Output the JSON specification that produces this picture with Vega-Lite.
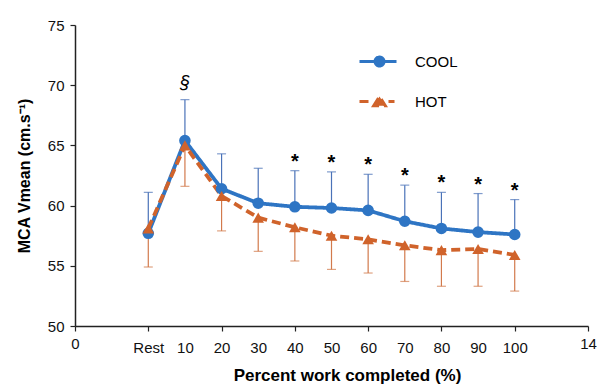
{
  "$schema": "https://vega.github.io/schema/vega-lite/v6.json",
  "width": 513,
  "height": 301,
  "autosize": {"type": "none"},
  "padding": {"left": 75, "top": 25, "right": 9, "bottom": 63},
  "background": "white",
  "config": {
    "view": {"stroke": null},
    "font": "Liberation Sans",
    "axis": {"grid": false, "domainColor": "#222", "domainWidth": 1.5, "tickColor": "#222", "tickWidth": 1.2, "labelColor": "#111", "titleColor": "#000", "labelFont": "Liberation Sans", "titleFont": "Liberation Sans"}
  },
  "data": {
    "values": [
      {"pos": 20, "group": "COOL", "mean": 57.7, "bar_end": 61.1, "sig": ""},
      {"pos": 30, "group": "COOL", "mean": 65.4, "bar_end": 68.8, "sig": "§"},
      {"pos": 40, "group": "COOL", "mean": 61.4, "bar_end": 64.3, "sig": ""},
      {"pos": 50, "group": "COOL", "mean": 60.2, "bar_end": 63.1, "sig": ""},
      {"pos": 60, "group": "COOL", "mean": 59.9, "bar_end": 62.9, "sig": "*"},
      {"pos": 70, "group": "COOL", "mean": 59.8, "bar_end": 62.8, "sig": "*"},
      {"pos": 80, "group": "COOL", "mean": 59.6, "bar_end": 62.6, "sig": "*"},
      {"pos": 90, "group": "COOL", "mean": 58.7, "bar_end": 61.7, "sig": "*"},
      {"pos": 100, "group": "COOL", "mean": 58.1, "bar_end": 61.1, "sig": "*"},
      {"pos": 110, "group": "COOL", "mean": 57.8, "bar_end": 61.0, "sig": "*"},
      {"pos": 120, "group": "COOL", "mean": 57.6, "bar_end": 60.5, "sig": "*"},
      {"pos": 20, "group": "HOT", "mean": 58.1, "bar_end": 54.9, "sig": ""},
      {"pos": 30, "group": "HOT", "mean": 65.0, "bar_end": 61.6, "sig": ""},
      {"pos": 40, "group": "HOT", "mean": 60.8, "bar_end": 57.9, "sig": ""},
      {"pos": 50, "group": "HOT", "mean": 59.0, "bar_end": 56.2, "sig": ""},
      {"pos": 60, "group": "HOT", "mean": 58.2, "bar_end": 55.4, "sig": ""},
      {"pos": 70, "group": "HOT", "mean": 57.5, "bar_end": 54.7, "sig": ""},
      {"pos": 80, "group": "HOT", "mean": 57.2, "bar_end": 54.4, "sig": ""},
      {"pos": 90, "group": "HOT", "mean": 56.7, "bar_end": 53.7, "sig": ""},
      {"pos": 100, "group": "HOT", "mean": 56.3, "bar_end": 53.3, "sig": ""},
      {"pos": 110, "group": "HOT", "mean": 56.4, "bar_end": 53.3, "sig": ""},
      {"pos": 120, "group": "HOT", "mean": 55.9, "bar_end": 52.9, "sig": ""}
    ]
  },
  "encoding": {
    "x": {
      "field": "pos",
      "type": "quantitative",
      "scale": {"domain": [0, 140], "nice": false, "zero": false},
      "axis": {
        "values": [0, 20, 30, 40, 50, 60, 70, 80, 90, 100, 110, 120, 140],
        "labelExpr": "datum.value == 0 ? '0' : datum.value == 20 ? 'Rest' : datum.value == 140 ? '14' : '' + (datum.value - 20)",
        "tickOpacity": {"condition": {"test": "datum.value % 20 != 0", "value": 0}, "value": 1},
        "labelPadding": {"condition": {"test": "datum.value == 0 || datum.value == 140", "value": 5}, "value": 9},
        "tickSize": 5,
        "labelFontSize": 15,
        "labelFlush": false,
        "labelOverlap": false,
        "title": "Percent work completed (%)",
        "titleFontSize": 17,
        "titleFontWeight": "bold",
        "titleX": 272,
        "titlePadding": 12
      }
    }
  },
  "layer": [
    {
      "mark": {"type": "rule", "strokeWidth": 1.2},
      "encoding": {
        "y": {"field": "mean", "type": "quantitative"},
        "y2": {"field": "bar_end"},
        "color": {"condition": {"test": "datum.group === 'COOL'", "value": "#4a72b8"}, "value": "#d27a4c"}
      }
    },
    {
      "mark": {"type": "tick", "orient": "horizontal", "size": 9, "thickness": 1.2},
      "encoding": {
        "y": {"field": "bar_end", "type": "quantitative"},
        "color": {"condition": {"test": "datum.group === 'COOL'", "value": "#4a72b8"}, "value": "#d27a4c"}
      }
    },
    {
      "mark": {"type": "line", "strokeWidth": 3.8},
      "encoding": {
        "y": {
          "field": "mean",
          "type": "quantitative",
          "scale": {"domain": [50, 75], "nice": false, "zero": false},
          "axis": {
            "values": [50, 55, 60, 65, 70, 75],
            "tickSize": 5,
            "labelFontSize": 15,
            "labelPadding": 6,
            "title": "MCA Vmean (cm.s⁻¹)",
            "titleFontSize": 16,
            "titleFontWeight": "bold",
            "titlePadding": 15
          }
        },
        "color": {
          "field": "group",
          "type": "nominal",
          "scale": {"domain": ["COOL", "HOT"], "range": ["#2e75c4", "#d0632b"]},
          "legend": {
            "orient": "none",
            "legendX": 293,
            "legendY": 25,
            "title": null,
            "padding": 0,
            "labelOffset": 24,
            "rowPadding": 18,
            "labelFontSize": 15,
            "labelFont": "Liberation Sans",
            "labelColor": "#000",
            "symbolSize": 400,
            "symbolType": "circle",
            "encode": {
              "symbols": {
                "update": {
                  "shape": {"signal": "datum.value === 'COOL' ? 'M-2,0H1.7M-0.45,0A0.45,0.45,0,1,1,0.45,0A0.45,0.45,0,1,1,-0.45,0Z' : 'M-2,0H-0.85M-0.58,0.42L0,-0.5L0.58,0.42ZM0.9,0H1.5'"},
                  "fill": {"signal": "datum.value === 'COOL' ? '#2e75c4' : '#d0632b'"},
                  "stroke": {"signal": "datum.value === 'COOL' ? '#2e75c4' : '#d0632b'"},
                  "fillOpacity": {"value": 1},
                  "strokeOpacity": {"value": 1},
                  "opacity": {"value": 1},
                  "strokeWidth": {"value": 3},
                  "strokeDash": {"value": []},
                  "size": {"value": 400}
                }
              }
            }
          }
        },
        "strokeDash": {
          "field": "group",
          "type": "nominal",
          "scale": {"domain": ["COOL", "HOT"], "range": [[1, 0], [9, 5]]},
          "legend": null
        }
      }
    },
    {
      "transform": [{"filter": "datum.group === 'COOL'"}],
      "mark": {"type": "point", "filled": true, "size": 135, "opacity": 1, "shape": "circle", "color": "#2e75c4"},
      "encoding": {
        "y": {"field": "mean", "type": "quantitative"}
      }
    },
    {
      "transform": [{"filter": "datum.group === 'HOT'"}],
      "mark": {"type": "point", "filled": true, "size": 135, "opacity": 1, "shape": "triangle-up", "color": "#d0632b"},
      "encoding": {
        "y": {"field": "mean", "type": "quantitative"}
      }
    },
    {
      "transform": [{"filter": "datum.sig === '*'"}],
      "mark": {"type": "text", "fontSize": 20, "fontWeight": "bold", "baseline": "middle", "dy": -9, "color": "#000"},
      "encoding": {
        "y": {"field": "bar_end", "type": "quantitative"},
        "text": {"field": "sig"}
      }
    },
    {
      "transform": [{"filter": "datum.sig === '§'"}],
      "mark": {"type": "text", "fontSize": 18, "fontStyle": "italic", "baseline": "middle", "dy": -17, "color": "#000"},
      "encoding": {
        "y": {"field": "bar_end", "type": "quantitative"},
        "text": {"field": "sig"}
      }
    }
  ]
}
